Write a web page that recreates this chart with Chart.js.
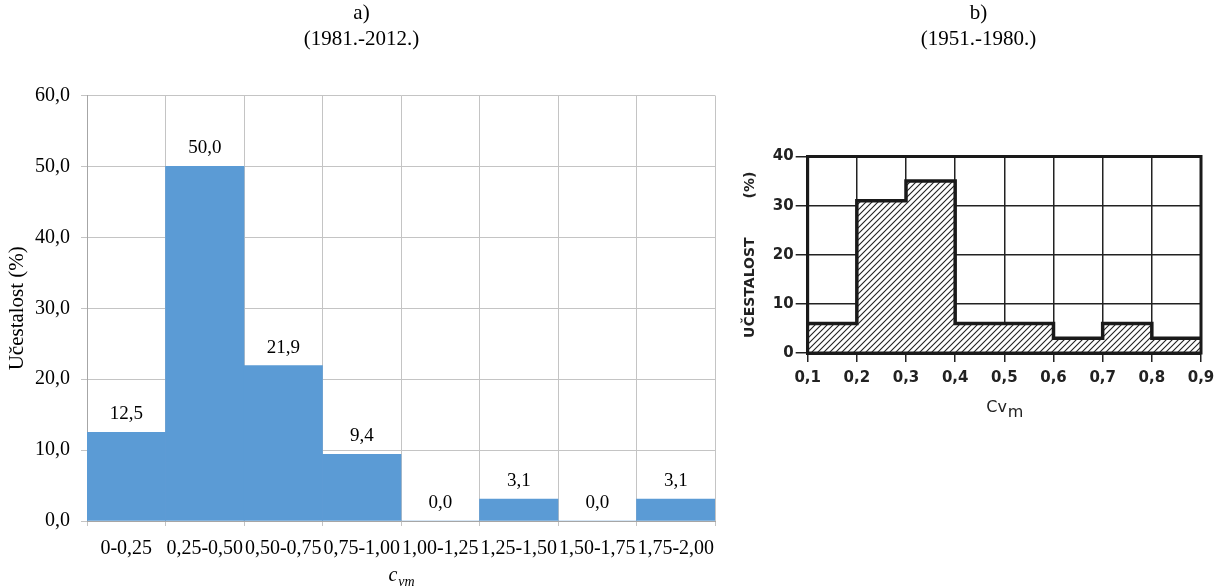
<!DOCTYPE html>
<html>
<head>
<meta charset="utf-8">
<script src="https://cdn.jsdelivr.net/npm/chart.js@4.4.1/dist/chart.umd.min.js"></script>
<style>
    body { margin: 0; background: #fff; width: 1215px; height: 588px; overflow: hidden; position: relative; }
    #chartA { position: absolute; left: 0; top: 0; }
    #chartB { position: absolute; left: 720px; top: 0; }
</style>
</head>
<body>
<canvas id="chartA" width="718" height="588"></canvas>
<canvas id="chartB" width="495" height="588"></canvas>
<script>
// a) 1981.-2012.
const classesA = ['0-0,25', '0,25-0,50', '0,50-0,75', '0,75-1,00', '1,00-1,25', '1,25-1,50', '1,50-1,75', '1,75-2,00'];
const freqA = [12.5, 50.0, 21.9, 9.4, 0.0, 3.1, 0.0, 3.1];
const yTicksA = { min: 0, max: 60, step: 10 };

// b) 1951.-1980. (bin edges, one value per bin)
const edgesB = [0.1, 0.2, 0.3, 0.4, 0.5, 0.6, 0.7, 0.8, 0.9];
const freqB = [6, 31, 35, 6, 6, 3, 6, 3];
const yTicksB = { min: 0, max: 40, step: 10 };

const serif = 'Liberation Serif';
const sans = 'DejaVu Sans';
const comma = (v, d) => Number(v).toFixed(d).replace('.', ',');

// value labels above bars
const barLabels = {
    id: 'barLabels',
    afterDatasetsDraw(chart) {
        const ctx = chart.ctx;
        const meta = chart.getDatasetMeta(0);
        ctx.save();
        ctx.font = '19px "' + serif + '"';
        ctx.fillStyle = '#000';
        ctx.textAlign = 'center';
        ctx.textBaseline = 'middle';
        meta.data.forEach((bar, i) => {
            ctx.fillText(comma(freqA[i], 1), bar.x, bar.y - 18);
        });
        ctx.restore();
    }
};

// axis title with subscript, drawn under the x axis
function subTitle(id, main, sub, font, subFont, offset, color) {
    return {
        id: id,
        afterDraw(chart) {
            const ctx = chart.ctx;
            const area = chart.chartArea;
            ctx.save();
            ctx.fillStyle = color;
            ctx.textBaseline = 'alphabetic';
            ctx.font = font;
            const w1 = ctx.measureText(main).width;
            ctx.font = subFont;
            const w2 = ctx.measureText(sub).width;
            const x0 = (area.left + area.right) / 2 - (w1 + w2) / 2;
            const y0 = area.bottom + offset;
            ctx.font = font;
            ctx.fillText(main, x0, y0);
            ctx.font = subFont;
            ctx.fillText(sub, x0 + w1 + 1, y0 + 5);
            ctx.restore();
        }
    };
}

// thick frame around plot b
const frameB = {
    id: 'frameB',
    afterDatasetsDraw(chart) {
        const a = chart.chartArea;
        const ctx = chart.ctx;
        ctx.save();
        ctx.strokeStyle = '#1a1a1a';
        ctx.lineWidth = 3;
        ctx.strokeRect(a.left, a.top, a.right - a.left, a.bottom - a.top);
        ctx.restore();
    }
};

function makeHatch() {
    const p = 6;
    const c = document.createElement('canvas');
    c.width = p; c.height = p;
    const g = c.getContext('2d');
    g.fillStyle = '#fff';
    g.fillRect(0, 0, p, p);
    g.strokeStyle = '#222';
    g.lineWidth = 1.1;
    g.beginPath();
    g.moveTo(0, p); g.lineTo(p, 0);
    g.moveTo(-1, 1); g.lineTo(1, -1);
    g.moveTo(p - 1, p + 1); g.lineTo(p + 1, p - 1);
    g.stroke();
    return g.createPattern(c, 'repeat');
}

document.addEventListener('DOMContentLoaded', () => {
    const serifTick = { family: serif, size: 20 };

    new Chart(document.getElementById('chartA'), {
        type: 'bar',
        data: {
            labels: classesA,
            datasets: [{
                data: freqA,
                backgroundColor: '#5b9bd5',
                categoryPercentage: 1,
                barPercentage: 1
            }]
        },
        options: {
            responsive: false,
            animation: false,
            layout: { padding: { left: 5, right: 0, top: 0, bottom: 16 } },
            plugins: {
                legend: { display: false },
                tooltip: { enabled: false },
                title: {
                    display: true,
                    text: ['a)', '(1981.-2012.)'],
                    color: '#000',
                    font: { family: serif, size: 21, weight: 'normal', lineHeight: 1.25 },
                    padding: { top: 0, bottom: 43 }
                }
            },
            scales: {
                x: {
                    grid: { color: '#c4c4c4', tickLength: 5, offset: true },
                    border: { color: '#a6a6a6' },
                    ticks: { font: serifTick, color: '#000', maxRotation: 0, autoSkip: false, padding: 11 },
                    afterFit: s => { s.paddingRight = 3; }
                },
                y: {
                    min: yTicksA.min,
                    max: yTicksA.max,
                    grid: { color: '#c4c4c4', tickLength: 6 },
                    border: { color: '#a6a6a6' },
                    ticks: { stepSize: yTicksA.step, font: serifTick, color: '#000', padding: 11, callback: v => comma(v, 1) },
                    title: { display: true, text: 'Učestalost (%)', color: '#000', font: { family: serif, size: 21 }, padding: { top: 0, bottom: 4 } },
                    afterFit: s => { s.width = 82; }
                }
            }
        },
        plugins: [barLabels, subTitle('cvm', 'c', 'vm', 'italic 20px "' + serif + '"', 'italic 14px "' + serif + '"', 60, '#000')]
    });

    const pts = edgesB.map((x, i) => ({ x: x, y: freqB[Math.min(i, freqB.length - 1)] }));
    const boldTick = { family: sans, size: 15, weight: 'bold' };

    new Chart(document.getElementById('chartB'), {
        type: 'line',
        data: {
            datasets: [{
                data: pts,
                stepped: true,
                fill: 'origin',
                backgroundColor: makeHatch(),
                borderColor: '#1a1a1a',
                borderWidth: 3.5,
                pointRadius: 0,
                tension: 0
            }]
        },
        options: {
            responsive: false,
            animation: false,
            layout: { padding: { left: 22, right: 0, top: 0, bottom: 194 } },
            plugins: {
                legend: { display: false },
                tooltip: { enabled: false },
                title: {
                    display: true,
                    text: ['b)', '(1951.-1980.)'],
                    color: '#000',
                    font: { family: serif, size: 21, weight: 'normal', lineHeight: 1.25 },
                    padding: { top: 0, bottom: 104 }
                }
            },
            scales: {
                x: {
                    type: 'linear',
                    min: edgesB[0],
                    max: edgesB[edgesB.length - 1],
                    grid: { color: '#222', lineWidth: 1.5, tickLength: 9 },
                    border: { color: '#1a1a1a', width: 3 },
                    ticks: { stepSize: 0.1, font: boldTick, color: '#222', padding: 7, maxRotation: 0, callback: v => comma(v, 1) },
                    afterFit: s => { s.paddingRight = 14; }
                },
                y: {
                    min: yTicksB.min,
                    max: yTicksB.max,
                    grid: { color: '#222', lineWidth: 1.5, tickLength: 12 },
                    border: { color: '#1a1a1a', width: 3 },
                    ticks: { stepSize: yTicksB.step, font: boldTick, color: '#222', padding: 2 },
                    title: { display: true, text: 'UČESTALOST        (%)', color: '#222', font: { family: sans, size: 14, weight: 'bold' }, padding: { top: 0, bottom: 12 } }
                }
            }
        },
        plugins: [frameB, subTitle('cvmB', 'Cv', 'm', '16px "' + sans + '"', '16px "' + sans + '"', 59, '#222')]
    });
});
</script>
</body>
</html>
